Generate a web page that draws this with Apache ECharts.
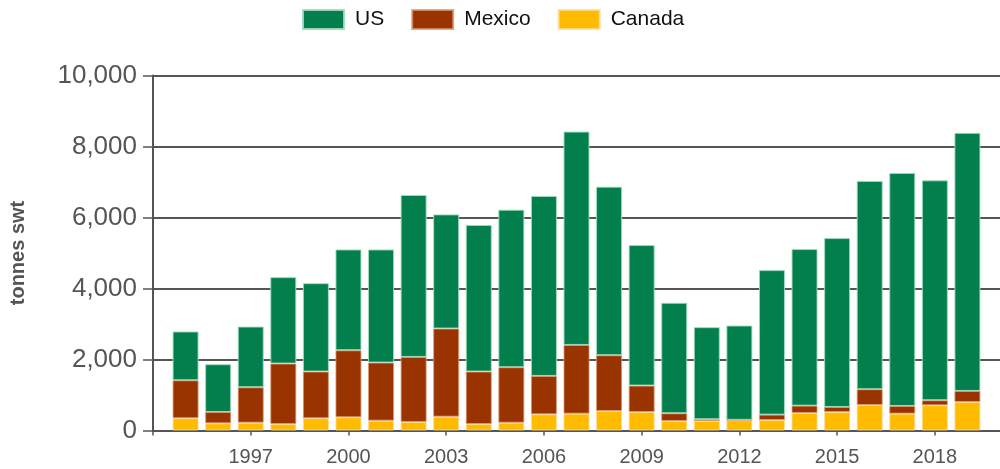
<!DOCTYPE html>
<html>
<head>
<meta charset="utf-8">
<script src="https://cdn.jsdelivr.net/npm/echarts@6/dist/echarts.min.js"></script>
<style>html,body{margin:0;padding:0;background:#fff}#c{width:1000px;height:469px}</style>
</head>
<body>
<div id="c"></div>
<script>
const years = [1995,1996,1997,1998,1999,2000,2001,2002,2003,2004,2005,2006,2007,2008,2009,2010,2011,2012,2013,2014,2015,2016,2017,2018,2019];
const canada = [345,203,220,183,344,372,277,240,390,183,220,456,475,550,522,268,268,290,296,494,522,719,475,710,804];
const mexico = [1070,319,998,1702,1316,1888,1636,1833,2482,1477,1562,1081,1935,1570,743,217,48,10,151,206,141,443,216,142,310];
const us = [1375,1345,1710,2435,2490,2840,3187,4561,3216,4128,4438,5069,6010,4749,3959,3112,2595,2657,4071,4410,4757,5868,6564,6195,7270];
const yTicks = [0,2000,4000,6000,8000,10000];
const seriesNames = ['US','Mexico','Canada'];
const colors = {US:'#027f4c', Mexico:'#993300', Canada:'#ffbb00'};
const borders = {US:'rgba(160,220,190,0.9)', Mexico:'rgba(220,150,110,0.8)', Canada:'rgba(255,220,140,0.8)'};

const font = 'Liberation Sans, Arial, sans-serif';
// axis runs one year before the first and one after the last data year
const axisYears = [years[0]-1].concat(years, [years[years.length-1]+1]).map(String);
function pad(vals){ return ['-'].concat(vals, ['-']); }
function mk(name, vals){
  return {
    name: name, type:'bar', stack:'total', barWidth:26,
    data: pad(vals),
    itemStyle:{color:colors[name], borderColor:borders[name], borderWidth:1},
    emphasis:{disabled:true}
  };
}
const showEvery3 = (i)=> (i % 3 === 0);
const chart = echarts.init(document.getElementById('c'), null, {renderer:'canvas'});
chart.setOption({
  animation:false,
  textStyle:{fontFamily:font},
  legend:{
    data:seriesNames, left:297, top:4, icon:'rect', itemWidth:41, itemHeight:19, itemGap:27,
    textStyle:{fontSize:21, color:'#111', fontFamily:font, padding:[0,0,0,6]}
  },
  grid:{left:153, right:-5, top:75.5, bottom:38.5, containLabel:false},
  xAxis:{
    type:'category', data:axisYears, boundaryGap:false,
    axisLine:{show:true, lineStyle:{color:'#555', width:2}},
    axisTick:{show:true, length:5, interval:(i)=>showEvery3(i), lineStyle:{color:'#555', width:1.5}},
    splitLine:{show:false},
    axisLabel:{fontSize:20, color:'#555', margin:17, fontFamily:font,
      interval:(i)=> i>0 && showEvery3(i)}
  },
  yAxis:{
    type:'value', min:yTicks[0], max:yTicks[yTicks.length-1], interval:yTicks[1]-yTicks[0],
    name:'tonnes swt', nameLocation:'middle', nameGap:125,
    nameTextStyle:{fontSize:20, fontWeight:'bold', color:'#555', fontFamily:font},
    axisLine:{show:true, lineStyle:{color:'#555', width:2}},
    axisTick:{show:true, length:10, lineStyle:{color:'#555', width:1.5}},
    splitLine:{show:true, lineStyle:{color:'#555', width:2}},
    axisLabel:{fontSize:26, color:'#555', margin:16, fontFamily:font,
      formatter:v=>v.toLocaleString('en-US')}
  },
  series:[mk('Canada',canada), mk('Mexico',mexico), mk('US',us)]
});
</script>
</body>
</html>
